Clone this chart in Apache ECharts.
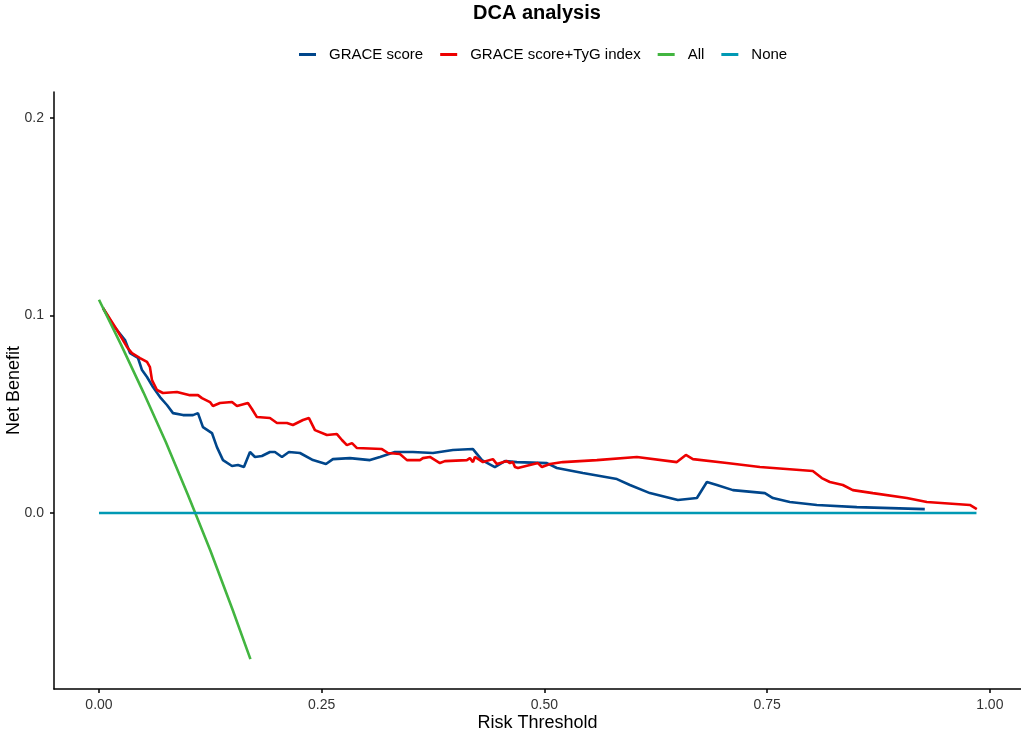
<!DOCTYPE html>
<html>
<head>
<meta charset="utf-8">
<script src="https://cdn.jsdelivr.net/npm/echarts@6/dist/echarts.min.js"></script>
<style>
  html, body { margin: 0; padding: 0; background: #fff; }
  #dca { width: 1021px; height: 733px; }
</style>
</head>
<body>
<div id="dca"></div>
<script>
// values: [risk threshold, net benefit]
const graceScore = [
    [0.0045, 0.1038], [0.0157, 0.0952], [0.0292, 0.0876], [0.0348, 0.0810], [0.0438, 0.0785],
    [0.0483, 0.0724], [0.0539, 0.0689], [0.0606, 0.0638], [0.0685, 0.0587], [0.0763, 0.0547],
    [0.0831, 0.0506], [0.0943, 0.0496], [0.1055, 0.0496], [0.1111, 0.0506], [0.1167, 0.0435],
    [0.1268, 0.0405], [0.1324, 0.0334], [0.1392, 0.0268], [0.1493, 0.0238], [0.1560, 0.0243],
    [0.1627, 0.0233], [0.1695, 0.0309], [0.1751, 0.0284], [0.1829, 0.0289], [0.1919, 0.0309],
    [0.1975, 0.0309], [0.2054, 0.0284], [0.2132, 0.0309], [0.2256, 0.0304], [0.2402, 0.0268],
    [0.2548, 0.0248], [0.2626, 0.0273], [0.2817, 0.0278], [0.3042, 0.0268], [0.3154, 0.0284],
    [0.3322, 0.0309], [0.3524, 0.0309], [0.3749, 0.0304], [0.3973, 0.0319], [0.4198, 0.0324],
    [0.4299, 0.0268], [0.4444, 0.0233], [0.4557, 0.0263], [0.4691, 0.0258], [0.5028, 0.0253],
    [0.5140, 0.0228], [0.5432, 0.0203], [0.5814, 0.0172], [0.5960, 0.0142], [0.6184, 0.0101],
    [0.6498, 0.0066], [0.6712, 0.0076], [0.6824, 0.0157], [0.6936, 0.0142], [0.7116, 0.0116],
    [0.7475, 0.0101], [0.7565, 0.0076], [0.7755, 0.0056], [0.8058, 0.0041], [0.8507, 0.0030],
    [0.9270, 0.0020]
];

const graceTyg = [
    [0.0045, 0.1038], [0.0202, 0.0927], [0.0314, 0.0841], [0.0370, 0.0810], [0.0460, 0.0785],
    [0.0539, 0.0765], [0.0572, 0.0739], [0.0595, 0.0673], [0.0651, 0.0623], [0.0718, 0.0608],
    [0.0875, 0.0613], [0.1021, 0.0597], [0.1111, 0.0597], [0.1156, 0.0582], [0.1246, 0.0562],
    [0.1279, 0.0542], [0.1358, 0.0557], [0.1493, 0.0562], [0.1549, 0.0542], [0.1672, 0.0557],
    [0.1717, 0.0527], [0.1773, 0.0486], [0.1919, 0.0481], [0.1998, 0.0456], [0.2110, 0.0456],
    [0.2177, 0.0446], [0.2290, 0.0471], [0.2357, 0.0481], [0.2424, 0.0420], [0.2559, 0.0395],
    [0.2671, 0.0400], [0.2727, 0.0370], [0.2783, 0.0344], [0.2840, 0.0354], [0.2896, 0.0329],
    [0.3176, 0.0324], [0.3244, 0.0304], [0.3378, 0.0299], [0.3457, 0.0268], [0.3603, 0.0268],
    [0.3636, 0.0278], [0.3715, 0.0284], [0.3827, 0.0253], [0.3883, 0.0263], [0.4130, 0.0268],
    [0.4164, 0.0278], [0.4198, 0.0258], [0.4220, 0.0284], [0.4310, 0.0258], [0.4422, 0.0273],
    [0.4467, 0.0248], [0.4579, 0.0263], [0.4613, 0.0253], [0.4646, 0.0258], [0.4669, 0.0233],
    [0.4703, 0.0228], [0.4837, 0.0243], [0.4927, 0.0253], [0.4972, 0.0233], [0.5062, 0.0248],
    [0.5208, 0.0258], [0.5589, 0.0268], [0.6038, 0.0284], [0.6487, 0.0258], [0.6588, 0.0294],
    [0.6667, 0.0273], [0.7048, 0.0253], [0.7419, 0.0233], [0.8013, 0.0213], [0.8114, 0.0177],
    [0.8204, 0.0157], [0.8350, 0.0142], [0.8462, 0.0116], [0.8687, 0.0101], [0.9068, 0.0076],
    [0.9293, 0.0056], [0.9776, 0.0041], [0.9854, 0.0020]
];

const treatAll = [
    [0, 0.108], [0.025, 0.085], [0.05, 0.061], [0.075, 0.036], [0.1, 0.009],
    [0.125, -0.019], [0.15, -0.049], [0.17, -0.074]
];

const treatNone = [[0, 0], [0.985, 0]];

const seriesNames = ['GRACE score', 'GRACE score+TyG index', 'All', 'None'];
const xTicks = [0, 0.25, 0.5, 0.75, 1];
const yTicks = [0, 0.1, 0.2];

const palette = ['#00468B', '#ED0000', '#42B540', '#0099B4'];
const FONT = '"Liberation Sans", Arial, sans-serif';

const dcaChart = echarts.init(document.getElementById('dca'));

const lineSeries = function (name, data, idx) {
    return {
        name: name,
        type: 'line',
        data: data,
        showSymbol: false,
        symbol: 'none',
        animation: false,
        color: palette[idx],
        lineStyle: { width: 2.6, color: palette[idx] }
    };
};

const option = {
    backgroundColor: '#fff',
    textStyle: { fontFamily: FONT },
    title: {
        text: 'DCA analysis',
        left: 468,
        top: -2,
        textStyle: { fontSize: 20, fontWeight: 'bold', color: '#000', fontFamily: FONT }
    },
    legend: {
        top: 42,
        left: 294,
        icon: 'rect',
        itemWidth: 17,
        itemHeight: 3,
        itemGap: 17,
        textStyle: { fontSize: 15, color: '#000', padding: [0, 0, 0, 8], fontFamily: FONT },
        data: seriesNames
    },
    grid: { left: 54, right: 0, top: 92, bottom: 44, outerBoundsMode: 'none', containLabel: false },
    xAxis: {
        type: 'value',
        min: -0.0505,
        max: 1.035,
        name: 'Risk Threshold',
        nameLocation: 'middle',
        nameGap: 25,
        nameMoveOverlap: false,
        nameTextStyle: { fontSize: 18, color: '#000' },
        axisLine: { onZero: false, lineStyle: { color: '#000', width: 1.5 } },
        axisTick: { customValues: xTicks, length: 4, lineStyle: { color: '#000', width: 1.5 } },
        axisLabel: {
            customValues: xTicks,
            fontSize: 14,
            color: '#333',
            margin: 9,
            formatter: function (v) { return v.toFixed(2); }
        },
        splitLine: { show: false }
    },
    yAxis: {
        type: 'value',
        min: -0.0891,
        max: 0.2132,
        name: 'Net Benefit',
        nameLocation: 'middle',
        nameGap: 31,
        nameMoveOverlap: false,
        nameTextStyle: { fontSize: 18, color: '#000' },
        axisLine: { show: true, onZero: false, lineStyle: { color: '#000', width: 1.5 } },
        axisTick: { show: true, customValues: yTicks, length: 4, lineStyle: { color: '#000', width: 1.5 } },
        axisLabel: {
            customValues: yTicks,
            fontSize: 14,
            color: '#333',
            margin: 10,
            formatter: function (v) { return v.toFixed(1); }
        },
        splitLine: { show: false }
    },
    series: [
        lineSeries(seriesNames[0], graceScore, 0),
        lineSeries(seriesNames[1], graceTyg, 1),
        lineSeries(seriesNames[2], treatAll, 2),
        lineSeries(seriesNames[3], treatNone, 3)
    ]
};

dcaChart.setOption(option);
</script>
</body>
</html>
